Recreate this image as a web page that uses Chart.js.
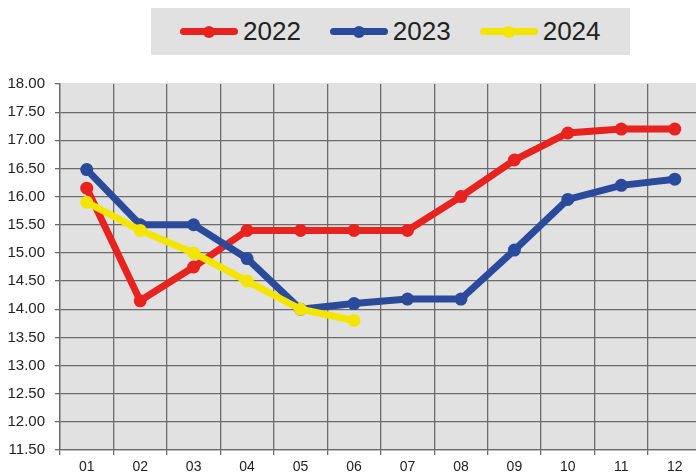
<!DOCTYPE html>
<html>
<head>
<meta charset="utf-8">
<script src="https://cdn.jsdelivr.net/npm/chart.js@4/dist/chart.umd.min.js"></script>
<style>
  html, body { margin: 0; padding: 0; background: #fff; overflow: hidden; width: 696px; height: 474px; }
  #wrap { position: relative; width: 708px; height: 474px; }
  #legend {
    position: absolute; left: 151px; top: 8px; width: 479px; height: 47px;
    background: #e1e1e1; display: flex; align-items: center; box-sizing: border-box;
    padding-left: 29px; gap: 29px;
    font-family: "Liberation Sans", Arial, sans-serif; font-size: 26px; color: #222;
  }
  .item { display: flex; align-items: center; }
  .sw { position: relative; width: 58px; height: 14px; margin-right: 5px; }
  .sw .ln { position: absolute; left: 0; right: 0; top: 3.5px; height: 7px; border-radius: 4px; }
  .sw .dt { position: absolute; left: 23px; top: 1px; width: 12px; height: 12px; border-radius: 50%; }
</style>
</head>
<body>
<div id="wrap">
  <canvas id="chart" width="708" height="474"></canvas>
  <div id="legend"></div>
</div>
<script>
// meses
const months = ["01", "02", "03", "04", "05", "06", "07", "08", "09", "10", "11", "12"];
const seriesNames = ["2022", "2023", "2024"];
const data2022 = [16.15, 14.15, 14.75, 15.4, 15.4, 15.4, 15.4, 16.0, 16.65, 17.13, 17.2, 17.2];
const data2023 = [16.48, 15.5, 15.5, 14.9, 14.0, 14.1, 14.18, 14.18, 15.05, 15.95, 16.2, 16.31];
const data2024 = [15.9, 15.4, 15.0, 14.5, 14.0, 13.8];
const yMin = 11.5, yMax = 18, yStep = 0.5;
const colors = ["#e8231f", "#2a4a9c", "#f4e500"];

const FONT = "'Liberation Sans', Arial, sans-serif";

function mkSet(i, values) {
  return {
    label: seriesNames[i],
    data: values,
    borderColor: colors[i],
    backgroundColor: colors[i],
    pointBackgroundColor: colors[i],
    pointBorderWidth: 0,
    pointRadius: 6.5,
    borderWidth: 7,
    tension: 0,
    order: 2 - i // 2024 encima
  };
}

// fondo gris del área del gráfico
const plotBg = {
  id: "plotBg",
  beforeDraw(chart) {
    const { ctx, chartArea: a } = chart;
    ctx.save();
    ctx.fillStyle = "#e1e1e1";
    ctx.fillRect(a.left, a.top - 1, a.right - a.left, a.bottom - a.top + 1);
    ctx.restore();
  }
};

const chart = new Chart(document.getElementById("chart"), {
  type: "line",
  data: {
    labels: months,
    datasets: [mkSet(0, data2022), mkSet(1, data2023), mkSet(2, data2024)]
  },
  options: {
    responsive: false,
    animation: false,
    layout: { padding: { top: 84, left: 0, right: 0, bottom: 0 } },
    plugins: { legend: { display: false }, tooltip: { enabled: false } },
    scales: {
      x: {
        offset: true,
        grid: { offset: true, color: "#6b6b6b", lineWidth: 1.3, tickLength: 5, drawTicks: true },
        border: { color: "#6b6b6b", width: 1.3 },
        ticks: { font: { family: FONT, size: 14 }, color: "#222", padding: 4, maxRotation: 0 },
        afterFit(s) { s.height = 24; }
      },
      y: {
        min: yMin, max: yMax,
        grid: {
          color: c => (c.tick && c.tick.value === yMax) ? "rgba(0,0,0,0)" : "#6b6b6b",
          tickColor: "#6b6b6b",
          lineWidth: 1.3, tickLength: 5
        },
        border: { color: "#6b6b6b", width: 1.3 },
        ticks: {
          stepSize: yStep,
          font: { family: FONT, size: 15 }, color: "#222", padding: 10,
          callback: v => Number(v).toFixed(2)
        },
        afterFit(s) { s.width = 60; }
      }
    }
  },
  plugins: [plotBg]
});

// leyenda HTML
const leg = document.getElementById("legend");
chart.data.datasets.forEach(ds => {
  const it = document.createElement("div");
  it.className = "item";
  it.innerHTML = `<div class="sw"><div class="ln" style="background:${ds.borderColor}"></div><div class="dt" style="background:${ds.borderColor}"></div></div><span>${ds.label}</span>`;
  leg.appendChild(it);
});
</script>
</body>
</html>
